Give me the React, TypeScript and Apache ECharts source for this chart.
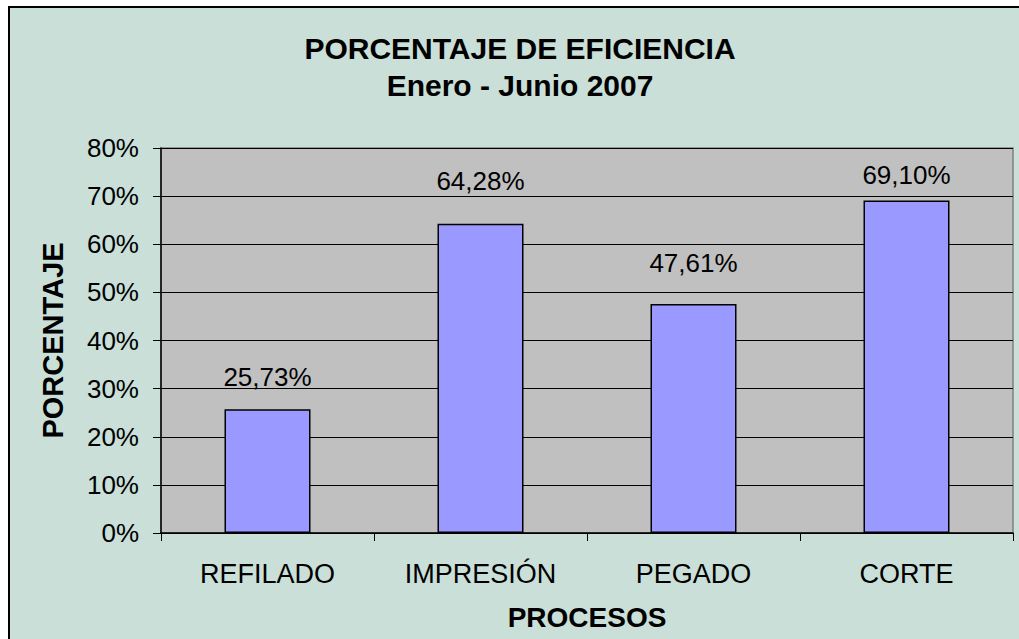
import React, { useEffect, useRef } from "react";
import * as echarts from "echarts";

const categories = ["REFILADO", "IMPRESIÓN", "PEGADO", "CORTE"];
const efficiency = [25.73, 64.28, 47.61, 69.1];
const yTicks = [0, 10, 20, 30, 40, 50, 60, 70, 80];
const titleLines = ["PORCENTAJE DE EFICIENCIA", "Enero - Junio 2007"];
const xName = "PROCESOS";
const yName = "PORCENTAJE";
const labelGaps = [19, 30, 28, 12];

const FONT = "'Liberation Sans', Arial, sans-serif";

export default function App() {
  const ref = useRef<HTMLDivElement>(null);
  useEffect(() => {
    if (!ref.current) return;
    const chart = echarts.init(ref.current, null, { renderer: "svg" });
    chart.setOption({
      animation: false,
      backgroundColor: "#ffffff",
      textStyle: { fontFamily: FONT },
      graphic: [
        {
          type: "rect",
          z: -10,
          shape: { x: 9, y: 7, width: 1040, height: 660 },
          style: { fill: "#C9DFD8", stroke: "#000000", lineWidth: 2 },
        },
        {
          type: "text",
          x: 520,
          y: 48,
          style: {
            text: titleLines[0],
            font: `bold 30px ${FONT}`,
            fill: "#000",
            align: "center",
            verticalAlign: "middle",
          },
        },
        {
          type: "text",
          x: 520,
          y: 85,
          style: {
            text: titleLines[1],
            font: `bold 30px ${FONT}`,
            fill: "#000",
            align: "center",
            verticalAlign: "middle",
          },
        },
      ],
      grid: {
        left: 161,
        top: 148,
        right: 6,
        bottom: 106,
        outerBoundsMode: "none",
        containLabel: false,
        show: true,
        backgroundColor: "#C0C0C0",
        borderColor: "#808080",
        borderWidth: 1.5,
      },
      xAxis: {
        type: "category",
        data: categories,
        name: xName,
        nameLocation: "middle",
        nameGap: 70,
        nameTextStyle: { fontSize: 28, fontWeight: "bold", color: "#000", fontFamily: FONT },
        axisLine: { show: true, lineStyle: { color: "#000", width: 1.5 } },
        axisTick: { show: true, alignWithLabel: false, length: 8, lineStyle: { color: "#000" } },
        axisLabel: { fontSize: 27, color: "#000", margin: 27, interval: 0, fontFamily: FONT },
        splitLine: { show: false },
      },
      yAxis: {
        type: "value",
        min: yTicks[0],
        max: yTicks[yTicks.length - 1],
        interval: 10,
        name: yName,
        nameLocation: "middle",
        nameRotate: 90,
        nameGap: 94,
        nameTextStyle: { fontSize: 29, fontWeight: "bold", color: "#000", fontFamily: FONT },
        axisLine: { show: true, lineStyle: { color: "#000", width: 1.5 } },
        axisTick: { show: true, length: 8, lineStyle: { color: "#000" } },
        axisLabel: {
          fontSize: 26,
          color: "#000",
          margin: 22,
          fontFamily: FONT,
          formatter: (v: number) => `${v}%`,
        },
        splitLine: { show: true, lineStyle: { color: "#000", width: 1 } },
      },
      series: [
        {
          type: "bar",
          data: efficiency.map((v, i) => ({ value: v, label: { distance: labelGaps[i] } })),
          barWidth: 86,
          itemStyle: { color: "#9999FF", borderColor: "#000", borderWidth: 1.5 },
          label: {
            show: true,
            position: "top",
            distance: 30,
            fontSize: 26,
            color: "#000",
            fontFamily: FONT,
            formatter: (p: any) => `${Number(p.value).toFixed(2).replace(".", ",")}%`,
          },
        },
      ],
    });
    return () => chart.dispose();
  }, []);
  return (
    <div
      ref={ref}
      style={{ position: "absolute", left: 0, top: 0, width: 1019, height: 639 }}
    />
  );
}
